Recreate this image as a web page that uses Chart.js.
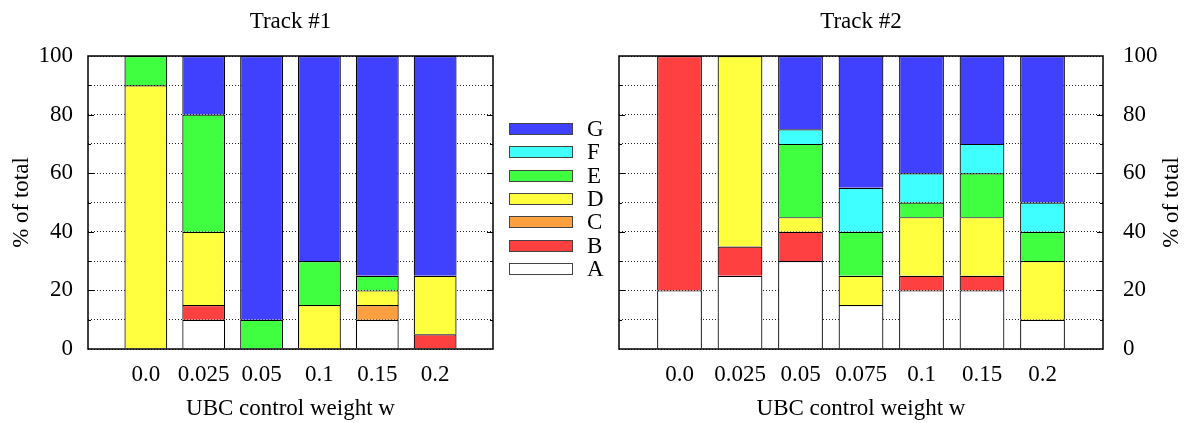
<!DOCTYPE html>
<html>
<head>
<meta charset="utf-8">
<script src="https://cdn.jsdelivr.net/npm/chart.js@4.4.0/dist/chart.umd.min.js"></script>
<style>
  body { margin: 0; background: #fff; }
  #wrap { position: relative; width: 1186px; height: 423px; font-family: "Liberation Serif", "Times New Roman", serif; }
  canvas { position: absolute; top: 0; }
  #chart1 { left: 0; }
  #chart2 { left: 600px; }
  .key { position: absolute; left: 509px; width: 64px; height: 12px; box-sizing: border-box; border: 1px solid #444; }
  .keyLabel { position: absolute; left: 587px; font-size: 23px; line-height: 24px; color: #000; }
</style>
</head>
<body>
<div id="wrap">
  <canvas id="chart1" width="500" height="423"></canvas>
  <canvas id="chart2" width="586" height="423"></canvas>
  <div id="legend"></div>
</div>
<script>
const seriesNames = ["A", "B", "C", "D", "E", "F", "G"];
const seriesColors = ["#ffffff", "#ff4040", "#ffa040", "#ffff40", "#40ff40", "#40ffff", "#4040ff"];

// Track #1
const track1Labels = ["0.0", "0.025", "0.05", "0.1", "0.15", "0.2"];
const track1A = [0, 10, 0, 0, 10, 0];
const track1B = [0, 5, 0, 0, 0, 5];
const track1C = [0, 0, 0, 0, 5, 0];
const track1D = [90, 25, 0, 15, 5, 20];
const track1E = [10, 40, 10, 15, 5, 0];
const track1F = [0, 0, 0, 0, 0, 0];
const track1G = [0, 20, 90, 70, 75, 75];

// Track #2
const track2Labels = ["0.0", "0.025", "0.05", "0.075", "0.1", "0.15", "0.2"];
const track2A = [20, 25, 30, 15, 20, 20, 10];
const track2B = [80, 10, 10, 0, 5, 5, 0];
const track2C = [0, 0, 0, 0, 0, 0, 0];
const track2D = [0, 65, 5, 10, 20, 20, 20];
const track2E = [0, 0, 25, 15, 5, 15, 10];
const track2F = [0, 0, 5, 15, 10, 10, 10];
const track2G = [0, 0, 25, 45, 40, 30, 50];

const yTicks = { min: 0, max: 100, step: 10, labelEvery: 20 };

const FONT = { family: '"Liberation Serif", "Times New Roman", serif', size: 23 };
Chart.defaults.color = "#000";

// box round the plot + short inner tics on both sides (gnuplot look)
const frameAndTics = {
  id: "frameAndTics",
  afterDatasetsDraw(chart) {
    const { ctx, chartArea: a } = chart;
    const y = chart.scales.y;
    ctx.save();
    ctx.strokeStyle = "#000";
    ctx.lineWidth = 1;
    y.ticks.forEach((t) => {
      if (t.value <= yTicks.min || t.value >= yTicks.max) return;
      const py = Math.round(y.getPixelForValue(t.value)) + 0.5;
      const len = t.value % yTicks.labelEvery === 0 ? 6 : 3;
      ctx.beginPath();
      ctx.moveTo(a.left, py);
      ctx.lineTo(a.left + len, py);
      ctx.moveTo(a.right, py);
      ctx.lineTo(a.right - len, py);
      ctx.stroke();
    });
    ctx.lineWidth = 1.5;
    ctx.strokeRect(a.left, a.top, a.right - a.left, a.bottom - a.top);
    ctx.restore();
  },
};

// y title on the right side, but reading upwards like the left one
const sideTitle = {
  id: "sideTitle",
  afterDraw(chart, args, opts) {
    if (!opts.text) return;
    const { ctx, chartArea: a } = chart;
    ctx.save();
    ctx.translate(opts.x, (a.top + a.bottom) / 2);
    ctx.rotate(-Math.PI / 2);
    ctx.font = `${FONT.size}px ${FONT.family}`;
    ctx.fillStyle = "#000";
    ctx.textAlign = "center";
    ctx.textBaseline = "middle";
    ctx.fillText(opts.text, 0, 0);
    ctx.restore();
  },
};

function makeChart(id, title, labels, values, side) {
  // empty slot at both ends so bars sit one full step in from the frame
  const paddedLabels = [""].concat(labels, [""]);
  const datasets = seriesNames.map((name, i) => ({
    label: name,
    data: [null].concat(values[i], [null]),
    backgroundColor: seriesColors[i],
    borderColor: "#000",
    borderWidth: 1.2,
    categoryPercentage: 1,
    barPercentage: 0.74,
  }));

  const isLeft = side === "left";

  return new Chart(document.getElementById(id), {
    type: "bar",
    data: { labels: paddedLabels, datasets },
    plugins: [frameAndTics, sideTitle],
    options: {
      responsive: false,
      animation: false,
      layout: { padding: isLeft ? { left: 0, right: 7, top: 0, bottom: 0 } : { left: 19, right: 0, top: 0, bottom: 0 } },
      plugins: {
        legend: { display: false },
        tooltip: { enabled: false },
        title: {
          display: true,
          text: title,
          font: { ...FONT, weight: "normal" },
          color: "#000",
          fullSize: false,
          padding: { top: 8, bottom: 20.4 },
        },
        sideTitle: isLeft ? {} : { text: "% of total", x: 572 },
      },
      scales: {
        x: {
          stacked: true,
          offset: false,
          grid: { display: false, offset: false },
          border: { display: false },
          ticks: { font: FONT, color: "#000", padding: 4, maxRotation: 0, autoSkip: false },
          title: { display: true, text: "UBC control weight w", font: FONT, color: "#000", padding: { top: 0, bottom: 0 } },
          afterFit(scale) {
            scale.height = 74;
          },
        },
        y: {
          stacked: true,
          position: side,
          min: yTicks.min,
          max: yTicks.max,
          grid: { color: "#222", lineWidth: 1, drawTicks: false },
          border: { display: false, dash: [1, 2] },
          ticks: {
            stepSize: yTicks.step,
            autoSkip: false,
            font: FONT,
            color: "#000",
            padding: isLeft ? 15 : 20,
            callback: (v) => (v % yTicks.labelEvery === 0 ? v : ""),
          },
          title: { display: isLeft, text: "% of total", font: FONT, color: "#000", padding: { top: 8, bottom: 0 } },
          afterFit(scale) {
            scale.width = isLeft ? 88 : 83;
          },
        },
      },
    },
  });
}

makeChart("chart1", "Track #1", track1Labels,
  [track1A, track1B, track1C, track1D, track1E, track1F, track1G], "left");
makeChart("chart2", "Track #2", track2Labels,
  [track2A, track2B, track2C, track2D, track2E, track2F, track2G], "right");

// shared key between the two plots, G on top
const legend = document.getElementById("legend");
const keyTop = 128.7;
const keyStep = 23.4;
seriesNames.slice().reverse().forEach((name, k) => {
  const idx = seriesNames.length - 1 - k;
  const cy = keyTop + k * keyStep;
  const box = document.createElement("div");
  box.className = "key";
  box.style.top = cy - 6 + "px";
  box.style.background = seriesColors[idx];
  legend.appendChild(box);
  const lab = document.createElement("div");
  lab.className = "keyLabel";
  lab.style.top = cy - 12 + "px";
  lab.textContent = name;
  legend.appendChild(lab);
});
</script>
</body>
</html>
